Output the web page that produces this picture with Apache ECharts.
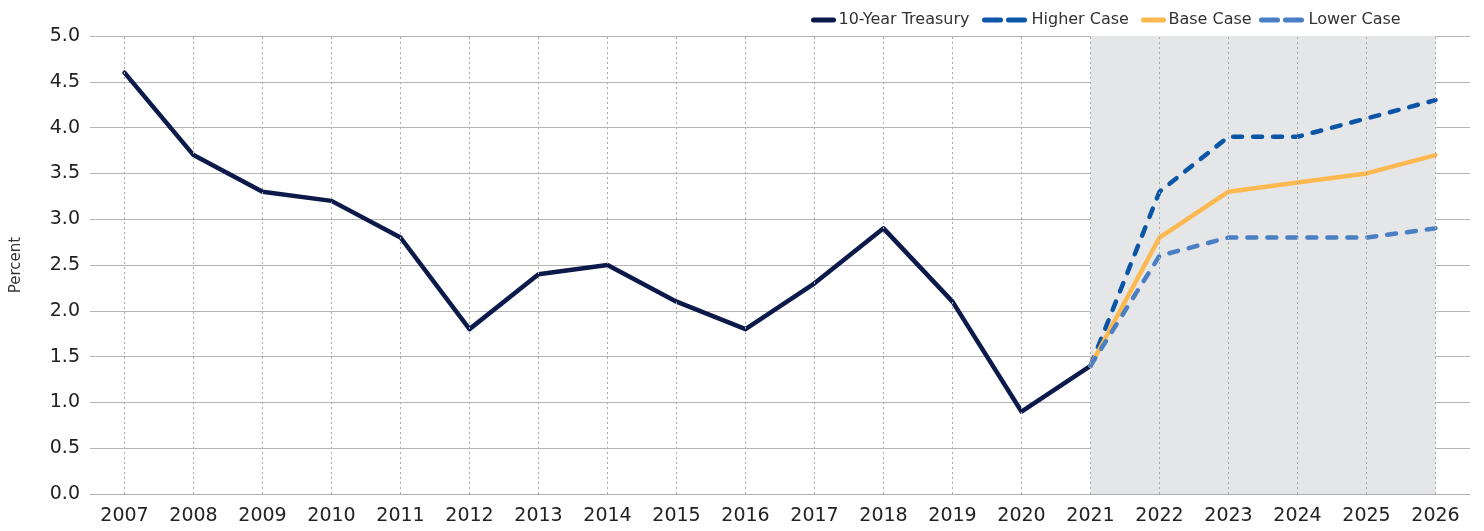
<!DOCTYPE html>
<html>
<head>
<meta charset="utf-8">
<script src="https://cdn.jsdelivr.net/npm/echarts@6/dist/echarts.min.js"></script>
<style>
  html, body { margin: 0; padding: 0; background: #fff; }
  #main { width: 1484px; height: 531px; }
</style>
</head>
<body>
<div id="main"></div>
<script>
// years on the x axis
const years = ['2007','2008','2009','2010','2011','2012','2013','2014','2015','2016',
  '2017','2018','2019','2020','2021','2022','2023','2024','2025','2026'];
// actual 10-year yield, ends at 2021
const treasury = [4.6, 3.7, 3.3, 3.2, 2.8, 1.8, 2.4, 2.5, 2.1, 1.8, 2.3, 2.9, 2.1, 0.9, 1.4,
  null, null, null, null, null];
// forecast cases start at 2021
const higherCase = [null,null,null,null,null,null,null,null,null,null,null,null,null,null,
  1.4, 3.3, 3.9, 3.9, 4.1, 4.3];
const baseCase = [null,null,null,null,null,null,null,null,null,null,null,null,null,null,
  1.4, 2.8, 3.3, 3.4, 3.5, 3.7];
const lowerCase = [null,null,null,null,null,null,null,null,null,null,null,null,null,null,
  1.4, 2.6, 2.8, 2.8, 2.8, 2.9];
const forecastStart = '2021';
const forecastEnd = '2026';

const font = 'DejaVu Sans';
const chart = echarts.init(document.getElementById('main'));

function lineSeries(name, data, color, dashed) {
  return {
    name: name,
    type: 'line',
    data: data,
    symbol: 'none',
    connectNulls: false,
    lineStyle: { color: color, width: 4.5, type: dashed ? [9, 11] : 'solid', cap: 'round', join: 'round' },
    itemStyle: { color: color },
    z: 3
  };
}

// one legend per entry so the icon widths can differ like the original
function legendItem(name, left, dashed) {
  return {
    data: [name],
    left: left, top: 7,
    itemWidth: dashed ? 42 : 20, itemHeight: 5,
    itemStyle: { opacity: 0 },
    lineStyle: { width: 5, cap: 'round', type: dashed ? [16, 8] : 'solid' },
    textStyle: { fontSize: 16, color: '#333', fontFamily: font }
  };
}

const option = {
  animation: false,
  textStyle: { fontFamily: font },
  grid: { left: 90, right: 14, top: 36, bottom: 37 },
  legend: [
    legendItem('10-Year Treasury', 806, false),
    legendItem('Higher Case', 977, true),
    legendItem('Base Case', 1136, false),
    legendItem('Lower Case', 1254, true)
  ],
  xAxis: {
    type: 'category',
    data: years,
    boundaryGap: true,
    axisLine: { lineStyle: { color: '#b0b0b0', width: 1 } },
    axisTick: { show: false },
    axisLabel: { color: '#222', fontSize: 19, margin: 13, fontFamily: font },
    splitLine: { show: false }
  },
  yAxis: {
    type: 'value',
    min: 0, max: 5, interval: 0.5,
    name: 'Percent',
    nameLocation: 'middle',
    nameGap: 66,
    nameTextStyle: { color: '#333', fontSize: 15, fontFamily: font },
    axisLine: { show: false },
    axisTick: { show: false },
    axisLabel: { color: '#222', fontSize: 19, margin: 10, fontFamily: font,
      formatter: v => v.toFixed(1) },
    splitLine: { lineStyle: { color: '#b5b5b5', width: 1 } }
  },
  series: [
    Object.assign(lineSeries('10-Year Treasury', treasury, '#0b1a4a', false), {
      markArea: {
        silent: true,
        itemStyle: { color: '#e5e6e8' },
        data: [[{ xAxis: forecastStart }, { xAxis: forecastEnd }]]
      },
      markLine: {
        silent: true,
        symbol: 'none',
        label: { show: false },
        lineStyle: { color: '#a8a8a8', type: [2, 3], width: 1 },
        data: years.map(y => ({ xAxis: y }))
      }
    }),
    lineSeries('Higher Case', higherCase, '#0b55a6', true),
    lineSeries('Base Case', baseCase, '#fdb94f', false),
    lineSeries('Lower Case', lowerCase, '#4a7fc4', true)
  ]
};
chart.setOption(option);
</script>
</body>
</html>
